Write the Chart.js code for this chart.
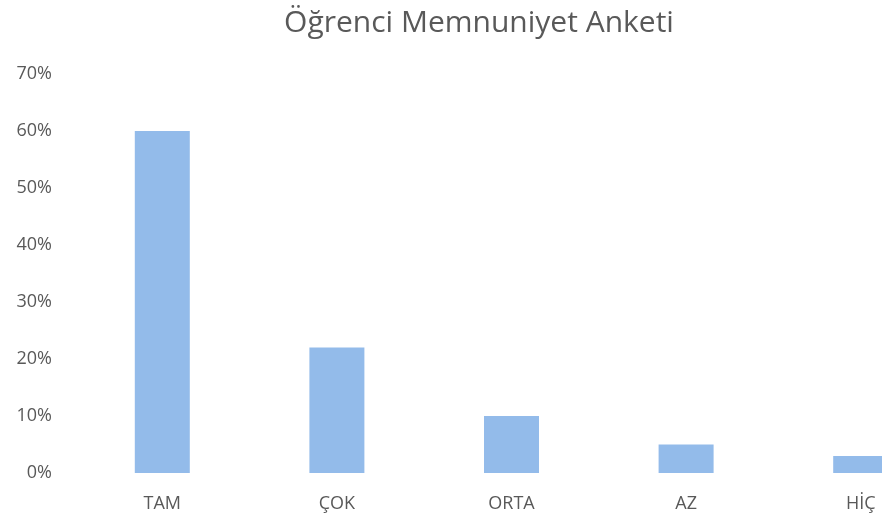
<!DOCTYPE html>
<html>
<head>
<meta charset="utf-8">
<script src="https://cdn.jsdelivr.net/npm/chart.js@4"></script>
<style>
html,body{margin:0;padding:0;background:#fff;overflow:hidden;}
#wrap{width:976px;height:528px;}
</style>
</head>
<body>
<div id="wrap"><canvas id="c" width="976" height="528"></canvas></div>
<script>
const categories = ['TAM', 'ÇOK', 'ORTA', 'AZ', 'HİÇ'];
const values = [0.60, 0.22, 0.10, 0.05, 0.03];
const yTicks = [0, 0.1, 0.2, 0.3, 0.4, 0.5, 0.6, 0.7];
const titleText = 'Öğrenci Memnuniyet Anketi';

const FONT = "'Open Sans', 'Noto Sans', sans-serif";
const GREY = '#595959';

new Chart(document.getElementById('c'), {
  type: 'bar',
  data: {
    labels: categories,
    datasets: [{
      data: values,
      backgroundColor: '#93BBEA',
      borderWidth: 0,
      barPercentage: 0.63,
      categoryPercentage: 0.5
    }]
  },
  options: {
    responsive: false,
    animation: false,
    layout: { padding: { left: 10, right: 28, top: 5, bottom: 0 } },
    plugins: {
      legend: { display: false },
      tooltip: { enabled: false },
      title: {
        display: true,
        text: titleText,
        color: GREY,
        font: { family: FONT, size: 30, weight: 'normal' },
        padding: { top: 0, bottom: 33 }
      }
    },
    scales: {
      x: {
        afterFit: (scale) => { scale.height = 55; },
        grid: { display: false, drawTicks: false },
        border: { display: false },
        ticks: { color: GREY, font: { family: FONT, size: 18 }, padding: 20 }
      },
      y: {
        min: 0,
        max: 0.7,
        afterBuildTicks: (scale) => { scale.ticks = yTicks.map(v => ({ value: v })); },
        afterFit: (scale) => { scale.width = 65; },
        grid: { display: false, drawTicks: false },
        border: { display: false },
        ticks: {
          color: GREY,
          font: { family: FONT, size: 18 },
          padding: 23,
          callback: (v) => Math.round(v * 100) + '%'
        }
      }
    }
  }
});
</script>
</body>
</html>
